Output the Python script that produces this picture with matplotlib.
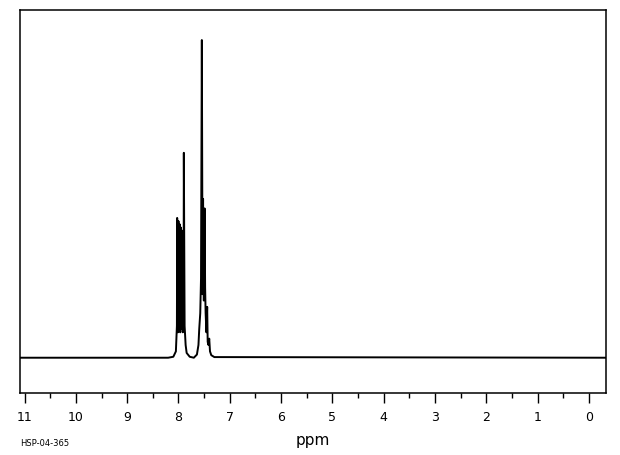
import matplotlib
matplotlib.use("Agg")
import matplotlib.pyplot as plt

# trace: chemical shift (ppm) and intensity (tallest = 100)
ppm = [11.08, 8.20, 8.10, 8.05, 8.03, 8.025, 8.01, 8.00, 7.99, 7.975, 7.965,
       7.955, 7.94, 7.93, 7.915, 7.90, 7.895, 7.88, 7.86, 7.84, 7.78, 7.70,
       7.64, 7.61, 7.595, 7.575, 7.56, 7.544, 7.53, 7.52, 7.505, 7.49, 7.48,
       7.47, 7.455, 7.44, 7.43, 7.415, 7.40, 7.385, 7.36, 7.30, -0.33]
intensity = [0, 0, 0.3, 2, 10, 44, 8, 43, 9, 42, 8,
             41, 9, 40, 8, 12, 64.5, 10, 4, 1.5, 0.3, 0,
             1, 4, 9, 14, 25, 100, 20, 50, 18, 47, 22,
             14, 8, 16, 5, 4, 6, 2, 0.8, 0.2, 0]

major_ticks = list(range(0, 12))
minor_ticks = [x + 0.5 for x in range(0, 11)]

fig = plt.figure(figsize=(6.2, 4.55), dpi=100)
ax = fig.add_axes([0.033, 0.137, 0.944, 0.842])
ax.plot(ppm, intensity, color="black", lw=1.4)

ax.set_xlim(11.08, -0.33)
ax.set_ylim(-11.0, 109.6)
ax.set_xticks(major_ticks)
ax.set_xticks(minor_ticks, minor=True)
ax.set_yticks([])
ax.tick_params(axis="x", which="major", direction="out", length=7, width=1,
               labelsize=9, pad=6)
ax.tick_params(axis="x", which="minor", direction="out", length=3.5, width=1)
for s in ax.spines.values():
    s.set_linewidth(1.1)

fig.text(0.505, 0.031, "ppm", ha="center", va="center", fontsize=11)
fig.text(0.032, 0.026, "HSP-04-365", ha="left", va="center", fontsize=6)

fig.savefig("out.png", dpi=100)
